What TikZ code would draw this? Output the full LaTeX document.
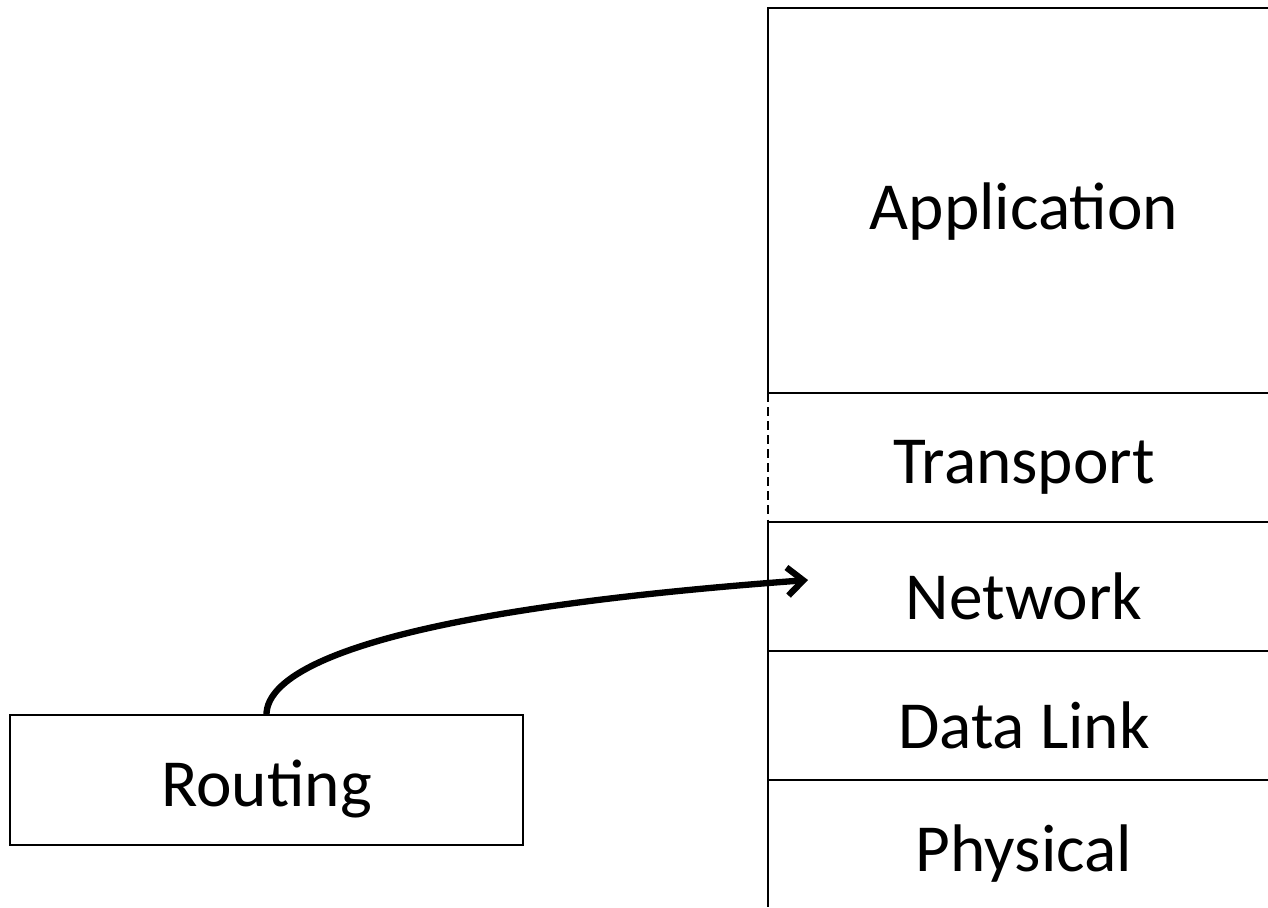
\documentclass[tikz,border=0pt]{standalone}
\usepackage{pgf,tikz}
\usepackage{fontspec}
\setmainfont{Carlito}
\usetikzlibrary{arrows.meta}

\begin{document}
\begin{tikzpicture}[x=0.02cm,y=-0.02cm,
    every node/.style={font=\fontsize{38.3}{46}\selectfont, outer sep=0pt},
    border/.style={line width=1.1pt},
    link/.style={line width=3.6pt, -{Straight Barb[length=9pt,width=16pt,line width=3.6pt]}}]
            \useasboundingbox (0,0) rectangle (1268,907);
            % the layer stack
            \coordinate (top) at (768,8);
            \coordinate (cut1) at (768,393);
            \coordinate (cut2) at (768,522);
            \coordinate (cut3) at (768,651);
            \coordinate (cut4) at (768,780);
            \coordinate (foot) at (768,907);
            \node (app) at (1024,212) {Application};
            \node (trans) at (1024,467) {Transport};
            \node (net) at (1024,596) {Network};
            \node (dlink) at (1024,725) {Data Link};
            \node (phys) at (1024,854) {Physical};
            \draw[border] (cut1) -- (top) -- (1268,8);
            \draw[border] (cut1) -- (1268,393);
            \draw[border] (cut2) -- (1268,522);
            \draw[border] (cut3) -- (1268,651);
            \draw[border] (cut4) -- (1268,780);
            \draw[border] (cut2) -- (foot);
            \draw[line width=0.9pt, dash pattern=on 5pt off 3pt] (cut1) -- (cut2);
            % routing box and the arrow into the network layer
            \node[draw, border, minimum width=10.26cm, minimum height=2.6cm, inner sep=0pt] (route) at (266.5,780) {};
            \node (routetext) at (266.5,789) {Routing};
            \coordinate (tip) at (808,580);
            \draw[link] (route.north) .. controls (266,680) and (330,615) .. (tip);
        \end{tikzpicture}
\end{document}
